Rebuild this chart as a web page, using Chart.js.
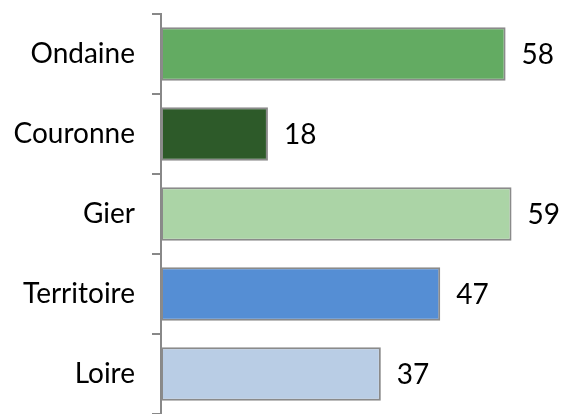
<!DOCTYPE html>
<html>
<head>
<meta charset="utf-8">
<script src="https://cdn.jsdelivr.net/npm/chart.js@4"></script>
<style>
  html, body { margin: 0; padding: 0; background: #fff; overflow: hidden; }
  #box { width: 563px; height: 414px; }
</style>
</head>
<body>
<div id="box"><canvas id="graficoSecteurs"></canvas></div>
<script>
var secteurs = ['Ondaine', 'Couronne', 'Gier', 'Territoire', 'Loire'];
var valeurs = [58, 18, 59, 47, 37];
var couleurs = ['#63ab62', '#2d5a29', '#abd4a6', '#558ed4', '#b9cde5'];

var fonteTexte = 'Lato, "Open Sans", sans-serif';
var tailleTexte = 28;

// labels de valeur a droite des barres
var etiquettesValeurs = {
  id: 'etiquettesValeurs',
  afterDatasetsDraw(chart) {
    var ctx = chart.ctx;
    var meta = chart.getDatasetMeta(0);
    ctx.save();
    ctx.font = tailleTexte + 'px ' + fonteTexte;
    ctx.fillStyle = '#000';
    ctx.textAlign = 'left';
    ctx.textBaseline = 'middle';
    meta.data.forEach(function (barre, i) {
      ctx.fillText(String(valeurs[i]), barre.x + 16, barre.y + 1);
    });
    ctx.restore();
  }
};

var graficoSecteurs = new Chart(
  document.getElementById('graficoSecteurs'),
  {
    type: 'bar',
    plugins: [etiquettesValeurs],
    options: {
      indexAxis: 'y',
      responsive: true,
      maintainAspectRatio: false,
      animation: false,
      layout: {
        padding: { top: 14, right: 17, bottom: 0, left: 0 }
      },
      plugins: {
        legend: { display: false },
        tooltip: { enabled: false }
      },
      scales: {
        x: {
          display: false,
          min: 0,
          max: 64.8
        },
        y: {
          afterFit: function (scale) {
            scale.width = 161;
            scale.paddingTop = 0;
            scale.paddingBottom = 0;
          },
          grid: {
            offset: true,
            drawOnChartArea: false,
            tickLength: 9,
            color: '#888',
            lineWidth: 2
          },
          border: { display: true, color: '#888', width: 2 },
          ticks: {
            color: '#000',
            padding: 17,
            font: { size: tailleTexte, family: fonteTexte }
          }
        }
      }
    },
    data: {
      labels: secteurs,
      datasets: [
        {
          data: valeurs,
          backgroundColor: couleurs,
          borderColor: '#8a8a8a',
          borderWidth: 2,
          borderSkipped: false,
          categoryPercentage: 1,
          barPercentage: 0.67
        }
      ]
    }
  }
);
</script>
</body>
</html>
